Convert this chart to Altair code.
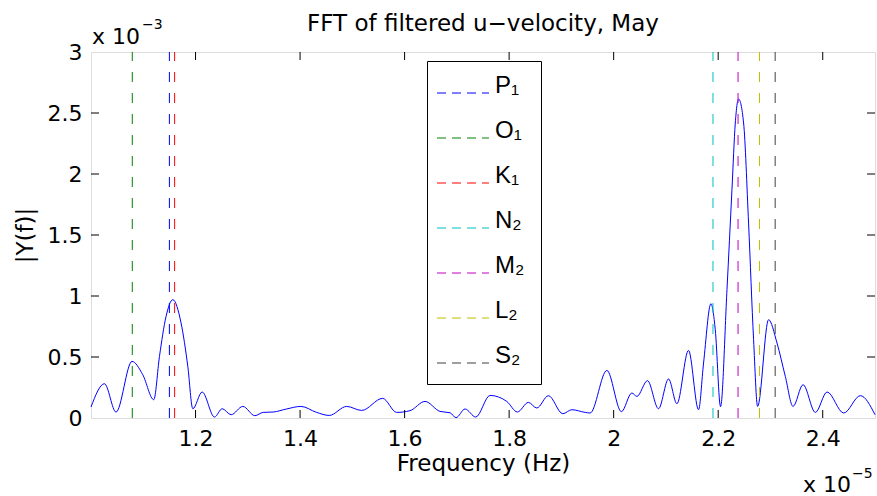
import altair as alt
import pandas as pd

# Spectrum |Y(f)|: frequency in units of 1e-5 Hz, amplitude in units of 1e-3
freq = [1.000, 1.0257, 1.0479, 1.0785, 1.0990, 1.1201, 1.1310, 1.1436, 1.1565, 1.1723,
        1.1852, 1.1948, 1.2126, 1.2363, 1.2509, 1.2681, 1.2905, 1.3135, 1.3294, 1.3485,
        1.3742, 1.4016, 1.4316, 1.4558, 1.4891, 1.5178, 1.5580, 1.5848, 1.6103, 1.6390,
        1.6678, 1.6869, 1.6984, 1.7156, 1.7361, 1.7635, 1.7955, 1.8158, 1.8368, 1.8529,
        1.8751, 1.9027, 1.9200, 1.9454, 1.9550, 1.9870, 2.0148, 2.0348, 2.0444, 2.0647,
        2.0858, 2.1050, 2.1210, 2.1432, 2.1624, 2.1720, 2.1861, 2.1944, 2.2045, 2.2168,
        2.2263, 2.2327, 2.2390, 2.2486, 2.2581, 2.2677, 2.2754, 2.2964, 2.3125, 2.3284,
        2.3432, 2.3623, 2.3859, 2.4083, 2.4401, 2.4720, 2.5000]
amp = [0.090, 0.281, 0.049, 0.464, 0.355, 0.150, 0.505, 0.833, 0.970, 0.779,
       0.423, 0.076, 0.213, 0.008, 0.076, 0.027, 0.095, 0.019, 0.046, 0.049,
       0.074, 0.095, 0.046, 0.021, 0.095, 0.062, 0.161, 0.046, 0.060, 0.136,
       0.054, 0.043, 0.003, 0.074, 0.008, 0.185, 0.136, 0.049, 0.128, 0.082,
       0.183, 0.035, 0.068, 0.046, 0.041, 0.390, 0.052, 0.205, 0.177, 0.306,
       0.076, 0.320, 0.117, 0.554, 0.068, 0.451, 0.937, 0.724, 0.093, 1.052,
       1.871, 2.418, 2.615, 2.418, 1.598, 0.642, 0.095, 0.806, 0.615, 0.341,
       0.095, 0.273, 0.046, 0.213, 0.041, 0.183, 0.027]

# Tidal constituents
const_names = ["P₁", "O₁", "K₁", "N₂", "M₂", "L₂", "S₂"]
const_freq = [1.150, 1.079, 1.160, 2.190, 2.238, 2.279, 2.309]
const_colors = ["#0000ff", "#008000", "#ff0000", "#00bfbf", "#bf00bf", "#bfbf00", "#404040"]

x_ticks = [1.2, 1.4, 1.6, 1.8, 2.0, 2.2, 2.4]
y_labels = [0, 0.5, 1, 1.5, 2, 2.5, 3]
y_ticks = [0.5, 1, 1.5, 2, 2.5]

FONT = "DejaVu Sans"
LFONT = "Liberation Sans"
FS = 22
W, H = 784, 366

xs = alt.Scale(domain=[1.0, 2.5], nice=False, zero=False)
ys = alt.Scale(domain=[0, 3], nice=False, zero=False)

x_axis = alt.Axis(values=x_ticks, format="~g", title="Frequency (Hz)",
                  ticks=False, domain=False, grid=False,
                  labelFontSize=FS, labelFont=FONT, labelColor="black",
                  labelPadding=10, titleFontSize=23, titleFont=FONT,
                  titleFontWeight="normal", titleColor="black", titlePadding=3)
y_axis = alt.Axis(values=y_labels, format="~g", title="|Y(f)|",
                  ticks=False, domain=False, grid=False,
                  labelFontSize=FS, labelFont=FONT, labelColor="black",
                  labelPadding=9, titleFontSize=23, titleFont=FONT,
                  titleFontWeight="normal", titleColor="black", titlePadding=10)

spec_df = pd.DataFrame({"f": freq, "a": amp})
const_df = pd.DataFrame({"name": const_names, "cf": const_freq})
xt_df = pd.DataFrame({"xt": x_ticks})
yt_df = pd.DataFrame({"yt": y_ticks})
dummy = pd.DataFrame({"d": [0]})

curve = alt.Chart(spec_df).mark_line(color="#0000ff", strokeWidth=1, interpolate="monotone").encode(
    x=alt.X("f:Q", scale=xs, axis=x_axis),
    y=alt.Y("a:Q", scale=ys, axis=y_axis),
)

vlines = alt.Chart(const_df).mark_rule(strokeDash=[10, 11], strokeWidth=1).encode(
    x=alt.X("cf:Q", scale=xs, axis=x_axis),
    y=alt.datum(0),
    y2=alt.datum(3),
    color=alt.Color("name:N", scale=alt.Scale(domain=const_names, range=const_colors),
                    legend=alt.Legend(title=None, orient="none", legendX=336, legendY=9,
                                      direction="vertical",
                                      symbolType="M-1.733,0H1.733", symbolSize=900,
                                      symbolStrokeWidth=1.2, symbolDash=[9, 6], symbolOffset=4,
                                      symbolFillColor="transparent",
                                      labelFontSize=24, labelFont=LFONT, labelColor="black",
                                      labelBaseline="alphabetic", labelOffset=16,
                                      rowPadding=21, padding=16,
                                      strokeColor="black", fillColor="white")),
)

tick_bottom = alt.Chart(xt_df).mark_rule(color="black", strokeWidth=1).encode(
    x=alt.X("xt:Q", scale=xs, axis=x_axis), y=alt.value(H), y2=alt.value(H - 8))
tick_top = alt.Chart(xt_df).mark_rule(color="black", strokeWidth=1).encode(
    x=alt.X("xt:Q", scale=xs, axis=x_axis), y=alt.value(0), y2=alt.value(8))
tick_left = alt.Chart(yt_df).mark_rule(color="black", strokeWidth=1).encode(
    y=alt.Y("yt:Q", scale=ys, axis=y_axis), x=alt.value(0), x2=alt.value(8))
tick_right = alt.Chart(yt_df).mark_rule(color="black", strokeWidth=1).encode(
    y=alt.Y("yt:Q", scale=ys, axis=y_axis), x=alt.value(W), x2=alt.value(W - 8))

def label(txt, x, y, size, align="left"):
    return alt.Chart(dummy).mark_text(text=txt, font=FONT, fontSize=size, align=align,
                                      baseline="alphabetic", color="black").encode(
        x=alt.value(x), y=alt.value(y))

title = label("FFT of filtered u−velocity, May", W / 2, -21, 23, align="center")
exp_y = label("x 10", 1, -8, FS) + label("−3", 51, -23, 14)
exp_x = label("x 10", 712, 440, FS) + label("−5", 761, 426, 14)

chart = alt.layer(curve, vlines, tick_bottom, tick_top, tick_left, tick_right,
                  title, exp_y, exp_x).properties(
    width=W, height=H,
    autosize=alt.AutoSizeParams(type="none"),
    padding={"left": 91, "top": 52, "right": 2, "bottom": 78},
).configure_view(stroke="black", strokeWidth=1).configure(background="white")

chart.save("out.html", embed_options={"renderer": "svg", "actions": False})
